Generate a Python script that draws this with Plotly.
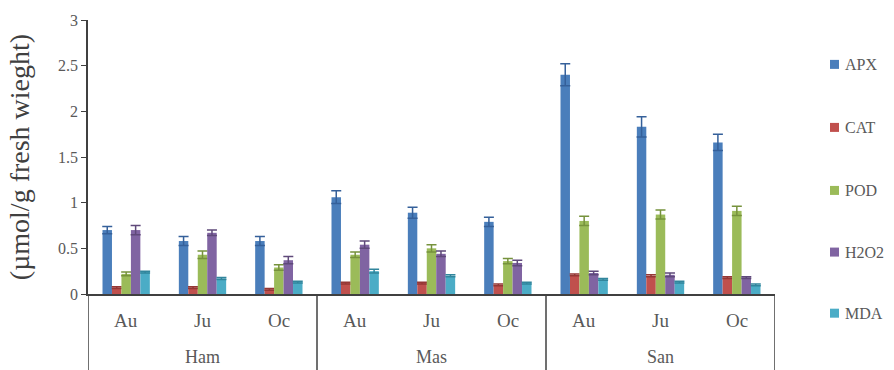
import plotly.graph_objects as go

# Sites and sampling months
sites = ["Ham", "Mas", "San"]
months = ["Au", "Ju", "Oc"]

# Mean values (µmol/g fresh weight), ordered Ham Au..Oc, Mas Au..Oc, San Au..Oc
apx = [0.70, 0.58, 0.58, 1.06, 0.89, 0.79, 2.40, 1.83, 1.66]
cat = [0.07, 0.07, 0.05, 0.12, 0.12, 0.10, 0.21, 0.20, 0.18]
pod = [0.22, 0.43, 0.29, 0.43, 0.50, 0.36, 0.80, 0.87, 0.91]
h2o2 = [0.70, 0.67, 0.37, 0.54, 0.44, 0.34, 0.23, 0.21, 0.18]
mda = [0.24, 0.17, 0.13, 0.25, 0.20, 0.12, 0.16, 0.13, 0.10]

# Standard errors
apx_err = [0.04, 0.05, 0.05, 0.07, 0.06, 0.05, 0.12, 0.11, 0.09]
cat_err = [0.01, 0.01, 0.01, 0.01, 0.01, 0.01, 0.01, 0.01, 0.01]
pod_err = [0.02, 0.04, 0.03, 0.03, 0.04, 0.03, 0.05, 0.05, 0.05]
h2o2_err = [0.05, 0.03, 0.04, 0.04, 0.03, 0.03, 0.02, 0.02, 0.01]
mda_err = [0.01, 0.01, 0.01, 0.02, 0.01, 0.01, 0.01, 0.01, 0.01]

series = [
    ("APX", apx, apx_err, "#4A7EBB", "#35609A"),
    ("CAT", cat, cat_err, "#C0504D", "#953735"),
    ("POD", pod, pod_err, "#9BBB59", "#76923C"),
    ("H2O2", h2o2, h2o2_err, "#8064A2", "#5F497A"),
    ("MDA", mda, mda_err, "#4BACC6", "#31859C"),
]

serif = "Liberation Serif, Times New Roman, serif"
axis_col = "#404040"
text_col = "#595959"

# One slot per (site, month) pair along a numeric x axis
n_sites, n_months = len(sites), len(months)
xpos = list(range(n_sites * n_months))

fig = go.Figure()
for name, vals, errs, color, ecolor in series:
    fig.add_trace(go.Bar(
        x=xpos,
        y=vals,
        name=name,
        marker=dict(color=color, line=dict(width=0)),
        error_y=dict(type="data", array=errs, visible=True,
                     color=ecolor, thickness=1.5, width=5),
        showlegend=False,
    ))

annotations = []
shapes = []

# Month labels under each slot, site labels under each block
for s, site in enumerate(sites):
    for m, month in enumerate(months):
        annotations.append(dict(
            x=s * n_months + m, y=-0.095, xref="x", yref="paper",
            text=month, showarrow=False, yanchor="middle",
            font=dict(family=serif, size=19, color=text_col),
        ))
    annotations.append(dict(
        x=s * n_months + (n_months - 1) / 2, y=-0.23, xref="x", yref="paper",
        text=site, showarrow=False, yanchor="middle",
        font=dict(family=serif, size=18, color=text_col),
    ))

# Divider lines framing each site block below the axis
for s in range(n_sites + 1):
    shapes.append(dict(
        type="line", xref="x", yref="paper",
        x0=s * n_months - 0.5, x1=s * n_months - 0.5, y0=0, y1=-0.3,
        line=dict(color=axis_col, width=1.5),
    ))

# Legend on the right: coloured square + label
legend_y = [0.838, 0.608, 0.378, 0.153, -0.07]
for (name, _, _, color, _), ly in zip(series, legend_y):
    shapes.append(dict(
        type="rect", xref="paper", yref="paper",
        x0=1.0 + 55 / 687, x1=1.0 + 64 / 687,
        y0=ly - 4.5 / 274, y1=ly + 4.5 / 274,
        fillcolor=color, line=dict(width=0),
    ))
    annotations.append(dict(
        x=1.0 + 68 / 687, y=ly, xref="paper", yref="paper",
        text=name, showarrow=False, xanchor="left", yanchor="middle",
        font=dict(family=serif, size=16, color=text_col),
    ))

fig.update_layout(
    width=894,
    height=370,
    margin=dict(l=88, r=119, t=20, b=76),
    barmode="group",
    bargap=0.38,
    bargroupgap=0,
    plot_bgcolor="white",
    paper_bgcolor="white",
    font=dict(family=serif, size=16, color=text_col),
    xaxis=dict(
        range=[-0.5, len(xpos) - 0.5],
        showline=True, linecolor=axis_col, linewidth=1.5,
        ticks="", showgrid=False, zeroline=False, showticklabels=False,
    ),
    yaxis=dict(
        range=[0, 3], dtick=0.5,
        showline=True, linecolor=axis_col, linewidth=1.5,
        ticks="outside", ticklen=5, tickcolor=axis_col,
        showgrid=False, zeroline=False,
        tickfont=dict(family=serif, size=16, color=text_col),
        title=dict(text="(µmol/g fresh wieght)",
                   font=dict(family=serif, size=28, color=axis_col),
                   standoff=20),
    ),
    annotations=annotations,
    shapes=shapes,
)

fig.write_html("out.html")
